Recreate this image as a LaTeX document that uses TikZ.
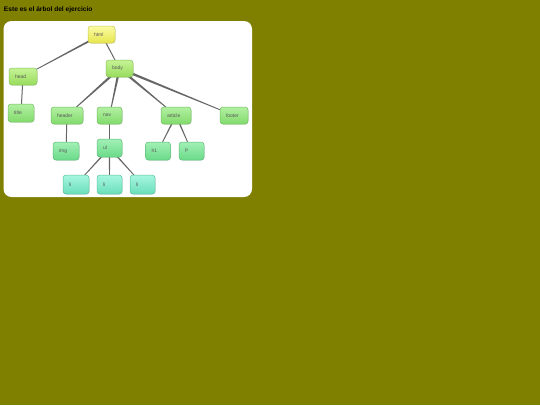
\documentclass[tikz,border=0pt]{standalone}
\usepackage{fontspec}
\setmainfont{Liberation Sans}
\usetikzlibrary{calc,shadows}
\definecolor{olivebg}{HTML}{808000}
\definecolor{edgecol}{HTML}{666666}
\definecolor{yT}{HTML}{FBFBA6}\definecolor{yB}{HTML}{E6E64C}\definecolor{yD}{HTML}{C9C94A}
\definecolor{aT}{HTML}{C6F396}\definecolor{aB}{HTML}{98DC5C}\definecolor{aD}{HTML}{84C258}
\definecolor{bT}{HTML}{B2F0A2}\definecolor{bB}{HTML}{82DA6C}\definecolor{bD}{HTML}{72BE60}
\definecolor{cT}{HTML}{A2F0B6}\definecolor{cB}{HTML}{6ADA88}\definecolor{cD}{HTML}{5ABE78}
\definecolor{dT}{HTML}{A6F6E0}\definecolor{dB}{HTML}{6ADEB8}\definecolor{dD}{HTML}{5AC2A0}
\pgfdeclarelayer{panel}
\pgfdeclarelayer{edges}
\pgfsetlayers{panel,edges,main}
\newcommand{\taper}[4]{%
  \fill[edgecol] ($(#1)!#3!90:(#2)$) -- ($(#2)!#4!-90:(#1)$) -- ($(#2)!#4!90:(#1)$) -- ($(#1)!#3!-90:(#2)$) -- cycle;}
\tikzset{
  nbox/.style={rounded corners=3pt, minimum height=17pt, inner xsep=6pt, inner ysep=0pt,
    align=left, font=\fontsize{5}{6}\selectfont, text=black!65, line width=0.5pt,
    drop shadow={opacity=0.22, shadow xshift=0.5pt, shadow yshift=-0.7pt}},
  lvY/.style={nbox, draw=yD, top color=yT, bottom color=yB},
  lvA/.style={nbox, draw=aD, top color=aT, bottom color=aB},
  lvB/.style={nbox, draw=bD, top color=bT, bottom color=bB},
  lvC/.style={nbox, draw=cD, top color=cT, bottom color=cB, minimum height=18pt},
  lvD/.style={nbox, draw=dD, top color=dT, bottom color=dB, minimum height=19pt},
}
\begin{document}
\begin{tikzpicture}[x=1pt,y=-1pt]
\useasboundingbox (0,0) rectangle (540,405);
\begin{pgfonlayer}{panel}
\fill[olivebg] (0,0) rectangle (540,405);
\fill[white, rounded corners=8pt] (3.5,21) rectangle (252,197);
\end{pgfonlayer}
\node[anchor=west, inner sep=0pt, font=\bfseries\fontsize{6.6}{8}\selectfont] (ttl) at (3.8,10) {Este es el árbol del ejercicio};
% nodes
\node[lvY, text width=15pt] (html) at (101.5,34.5) {html};
\node[lvA, text width=16pt] (head) at (23,76.5) {head};
\node[lvA, text width=15pt] (body) at (119.5,68.5) {body};
\node[lvB, text width=14pt, minimum height=18pt] (title) at (21,113) {title};
\node[lvB, text width=20pt] (header) at (67,115.5) {header};
\node[lvB, text width=13pt] (nav) at (109.5,115.5) {nav};
\node[lvB, text width=18pt] (article) at (176,115.5) {article};
\node[lvB, text width=16pt] (footer) at (234,115.5) {footer};
\node[lvC, text width=14pt] (img) at (66,151) {img};
\node[lvC, text width=13pt] (ul) at (109.5,148) {ul};
\node[lvC, text width=13pt] (h1) at (158,151) {h1};
\node[lvC, text width=13pt] (p) at (191.5,151) {p};
\node[lvD, text width=14pt] (li1) at (76,184.5) {li};
\node[lvD, text width=13pt] (li2) at (109.5,184.5) {li};
\node[lvD, text width=13pt] (li3) at (142.5,184.5) {li};
% edges
\begin{pgfonlayer}{edges}
\taper{html}{head}{1.0pt}{0.3pt}
\taper{html}{body}{0.6pt}{0.4pt}
\taper{head}{title}{0.5pt}{0.5pt}
\taper{body}{header}{1.3pt}{0.3pt}
\taper{body}{nav}{1.3pt}{0.3pt}
\taper{body}{article}{1.3pt}{0.3pt}
\taper{body}{footer}{1.3pt}{0.3pt}
\taper{header}{img}{0.5pt}{0.5pt}
\taper{nav}{ul}{0.5pt}{0.5pt}
\taper{ul}{li1}{0.8pt}{0.3pt}
\taper{ul}{li2}{0.8pt}{0.3pt}
\taper{ul}{li3}{0.8pt}{0.3pt}
\taper{article}{h1}{0.8pt}{0.3pt}
\taper{article}{p}{0.8pt}{0.3pt}
\end{pgfonlayer}
\end{tikzpicture}
\end{document}
